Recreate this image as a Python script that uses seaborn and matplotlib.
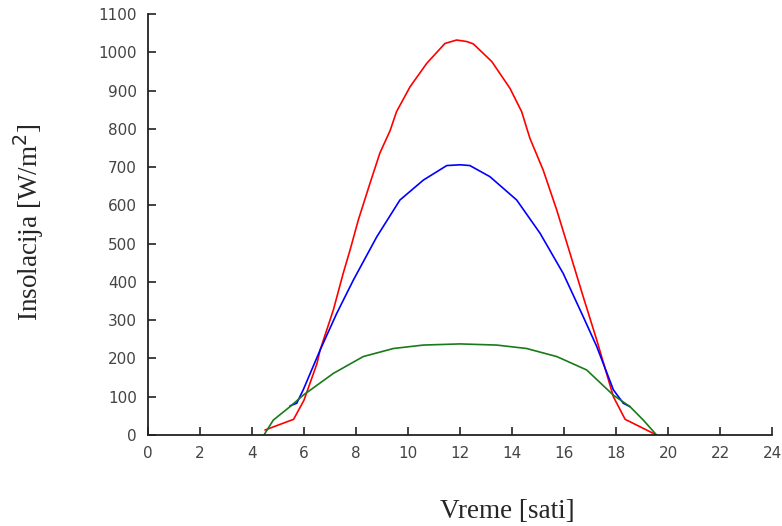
import matplotlib
matplotlib.use('Agg')
import matplotlib.pyplot as plt
import seaborn as sns

# values (hours, W/m2)
red_x = [4.5, 5.6, 6.0, 6.5, 6.62, 7.13, 7.51, 7.77, 8.09, 8.54, 8.92, 9.31, 9.56, 10.08,
         10.72, 11.42, 11.87, 12.26, 12.51, 13.22, 13.92, 14.37, 14.69, 15.2, 15.72,
         16.23, 16.74, 17.26, 17.9, 18.35, 19.56]
red_y = [13, 41, 91, 187, 222, 327, 423, 483, 562, 658, 737, 795, 845, 910,
         971, 1023, 1032, 1028, 1022, 976, 906, 845, 775, 692, 588,
         475, 361, 248, 100, 41, 0]

blue_x = [5.46, 5.72, 5.97, 6.62, 7.26, 7.9, 8.8, 9.69, 10.59, 11.49, 12.0, 12.38,
          13.15, 14.18, 15.08, 15.97, 16.74, 17.26, 17.9, 18.28, 18.54]
blue_y = [76, 83, 118, 222, 318, 405, 518, 614, 666, 704, 706, 704,
          675, 614, 527, 422, 309, 231, 118, 83, 74]

green_x = [4.46, 4.82, 5.46, 5.97, 7.13, 8.28, 9.44, 10.59, 12.0, 13.41, 14.56,
           15.72, 16.87, 17.9, 18.54, 19.05, 19.56]
green_y = [0, 39, 74, 104, 161, 205, 226, 235, 238, 235, 226,
           205, 170, 104, 74, 39, 0]

x_ticks = list(range(0, 25, 2))
y_ticks = list(range(0, 1101, 100))

sns.set_style('ticks')
plt.rcParams['font.family'] = ['Verdana', 'DejaVu Sans']

fig = plt.figure(figsize=(7.82, 5.26), dpi=100)
ax = fig.add_axes([148 / 782, 91 / 526, 624 / 782, 421 / 526])

for xs, ys, col in [(red_x, red_y, '#ff0000'),
                    (blue_x, blue_y, '#0000ff'),
                    (green_x, green_y, '#1a7a1a')]:
    sns.lineplot(x=xs, y=ys, ax=ax, color=col, linewidth=1.2,
                 sort=False, estimator=None)

ax.set_xlim(0, 24)
ax.set_ylim(0, 1100)
ax.set_xticks(x_ticks)
ax.set_yticks(y_ticks)
ax.tick_params(direction='in', length=6, width=1.2, colors='#222222',
               labelcolor='#444444', labelsize=11, pad=8)
for s in ['top', 'right']:
    ax.spines[s].set_visible(False)
for s in ['left', 'bottom']:
    ax.spines[s].set_color('#222222')
    ax.spines[s].set_linewidth(1.3)
ax.set_xlabel('')
ax.set_ylabel('')

fig.text(507 / 782, 1 - 511 / 526, 'Vreme [sati]', family='Liberation Serif',
         fontsize=19.5, ha='center', va='center')
fig.text(29 / 782, 1 - 222 / 526, 'Insolacija [W/m$^2$]', family='Liberation Serif',
         fontsize=19.5, ha='center', va='center', rotation=90)

plt.savefig('out.png', dpi=100)
plt.close()
